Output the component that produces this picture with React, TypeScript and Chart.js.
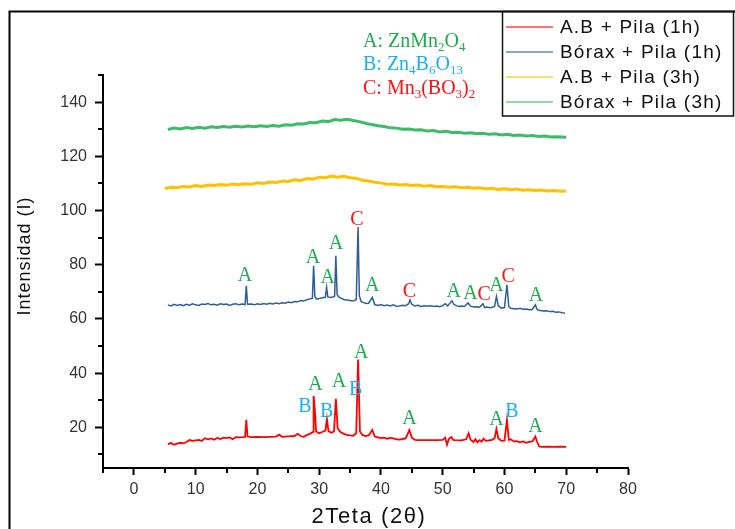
import React, { useEffect, useRef } from "react";
import { Chart, registerables } from "chart.js";

Chart.register(...registerables);

// ---------- data ----------
const seriesLabels = ["A.B + Pila (1h)", "Bórax + Pila (1h)", "A.B + Pila (3h)", "Bórax + Pila (3h)"];
const seriesColors = ["#ff0000", "#2e5e9a", "#ffc000", "#3dbb6a"];

const redX = [5.5, 6, 6.5, 7, 7.5, 8, 8.5, 9, 9.5, 10, 10.5, 11, 11.5, 12, 12.5, 13, 13.5, 14, 14.5, 15, 15.5, 16, 16.5, 17, 17.6, 18, 18.2, 18.4, 19, 20, 21, 22, 23, 23.5, 24, 25, 26, 26.5, 27, 27.5, 28, 28.5, 29, 29.1, 29.3, 29.5, 30, 30.5, 31, 31.25, 31.5, 32, 32.4, 32.7, 33, 33.5, 34, 34.5, 35, 35.5, 36, 36.3, 36.6, 37, 37.5, 38, 38.6, 39, 39.5, 40, 40.5, 41, 41.5, 42, 42.5, 43, 43.5, 44, 44.6, 45, 45.5, 46, 47, 48, 49, 50, 50.4, 50.7, 51, 51.4, 51.7, 52, 53, 53.8, 54.2, 54.5, 55, 55.3, 55.6, 56, 56.3, 56.6, 57, 57.5, 58, 58.4, 58.7, 59, 59.5, 60, 60.4, 60.7, 61, 61.5, 62, 62.5, 63, 63.5, 64, 64.5, 65, 65.3, 65.6, 66, 67, 68, 69, 70];
const redY = [13.8, 14.2, 13.6, 14.0, 14.3, 14.1, 14.6, 15.3, 15.0, 15.2, 15.4, 15.0, 16.0, 15.6, 15.9, 15.4, 16.1, 15.7, 16.2, 16.0, 16.3, 15.6, 16.4, 16.3, 16.4, 16.5, 22.8, 16.6, 16.4, 16.5, 16.4, 16.5, 16.6, 17.3, 16.5, 16.7, 16.8, 17.6, 16.8, 16.5, 17.2, 17.6, 18.3, 31.6, 26.5, 18.5, 17.8, 18.3, 18.8, 23.0, 18.6, 18.0, 18.5, 30.5, 19.5, 18.2, 17.6, 17.2, 17.0, 16.9, 17.8, 45.0, 18.5, 17.2, 16.8, 17.0, 19.0, 16.6, 16.3, 16.0, 16.2, 15.8, 16.1, 15.9, 15.6, 15.5, 15.7, 15.9, 19.0, 16.2, 15.4, 15.3, 15.3, 15.3, 15.3, 15.4, 16.2, 13.6, 15.8, 16.4, 15.4, 15.3, 15.2, 15.6, 17.8, 15.4, 14.6, 15.6, 14.5, 15.3, 14.7, 15.8, 15.0, 15.2, 15.4, 16.0, 19.4, 16.0, 15.0, 15.1, 22.7, 15.4, 15.6, 14.8, 14.9, 14.5, 14.8, 14.3, 14.6, 14.8, 16.6, 14.6, 13.0, 12.8, 12.9, 12.8, 12.9, 12.8];

const blueX = [5.5, 6, 6.5, 7, 7.5, 8, 8.5, 9, 9.5, 10, 10.5, 11, 11.5, 12, 12.5, 13, 13.5, 14, 14.5, 15, 15.5, 16, 16.5, 17, 17.5, 18, 18.2, 18.4, 19, 19.5, 20, 20.5, 21, 21.5, 22, 22.5, 23, 23.5, 24, 24.5, 25, 25.5, 26, 26.5, 27, 27.5, 28, 28.5, 28.9, 29.1, 29.3, 29.6, 30, 30.5, 31, 31.2, 31.4, 31.8, 32.2, 32.5, 32.7, 32.9, 33.2, 33.6, 34, 34.5, 35, 35.5, 36, 36.3, 36.5, 36.8, 37.2, 37.6, 38, 38.6, 39, 39.5, 40, 40.5, 41, 41.5, 42, 42.5, 43, 43.5, 44, 44.5, 44.7, 45, 45.5, 46, 46.5, 47, 47.5, 48, 48.5, 49, 49.5, 50, 50.4, 50.8, 51.5, 51.8, 52.2, 52.6, 53, 53.5, 54.1, 54.5, 55, 55.5, 56, 56.5, 56.8, 57.2, 57.6, 58, 58.4, 58.7, 59, 59.5, 60, 60.4, 60.7, 61, 61.5, 62, 62.5, 63, 63.5, 64, 64.5, 65, 65.3, 65.8, 66.3, 66.8, 67.3, 67.8, 68.3, 68.8, 69.3, 69.8];
const blueY = [65.2, 64.8, 65.4, 65.0, 65.3, 64.9, 65.4, 65.1, 65.6, 65.2, 65.0, 65.5, 65.3, 65.7, 65.2, 65.4, 65.1, 65.6, 65.3, 65.5, 65.0, 65.4, 65.6, 65.2, 65.5, 65.3, 72.2, 65.4, 65.5, 65.2, 65.6, 65.3, 65.7, 65.4, 65.8, 65.5, 65.9, 65.6, 66.0, 65.8, 66.2, 66.0, 66.4, 66.3, 66.8, 66.6, 67.1, 67.4, 67.6, 79.6, 68.2, 67.3, 67.5, 67.8, 68.0, 71.7, 68.1, 67.9, 68.1, 68.4, 83.3, 69.0, 68.0, 67.6, 67.2, 67.0, 66.8, 66.6, 67.2, 93.9, 68.5, 66.4, 66.0, 65.7, 65.8, 67.9, 65.3, 65.0, 65.3, 64.9, 65.1, 64.8, 65.2, 64.7, 64.8, 65.0, 64.9, 65.6, 67.0, 65.4, 64.8, 65.0, 64.6, 64.9, 64.7, 64.9, 64.6, 64.8, 64.5, 64.9, 65.6, 64.8, 66.7, 65.4, 64.9, 64.6, 64.8, 64.6, 65.9, 64.7, 64.4, 64.5, 64.3, 65.6, 64.2, 64.4, 64.1, 64.3, 64.6, 68.3, 64.8, 64.0, 64.2, 72.6, 64.6, 63.9, 63.8, 63.7, 63.9, 63.6, 63.7, 63.4, 63.5, 65.2, 63.4, 63.1, 62.9, 63.0, 62.7, 62.8, 62.5, 62.6, 62.3, 62.2];

const yellowX = [5, 6, 7, 8, 9, 10, 11, 12, 13, 14, 15, 16, 17, 18, 19, 20, 21, 22, 23, 24, 25, 26, 27, 28, 29, 30, 31, 32, 33, 34, 35, 36, 37, 38, 39, 40, 41, 42, 43, 44, 45, 46, 47, 48, 49, 50, 51, 52, 53, 54, 55, 56, 57, 58, 59, 60, 61, 62, 63, 64, 65, 66, 67, 68, 69, 70];
const yellowY = [108.1, 108.6, 108.4, 108.9, 108.7, 109.2, 108.9, 109.4, 109.2, 109.6, 109.3, 109.8, 109.5, 109.9, 109.7, 110.2, 110.0, 110.5, 110.3, 110.9, 110.7, 111.3, 111.1, 111.8, 111.6, 112.3, 112.1, 112.7, 112.3, 112.6, 112.1, 111.9, 111.2, 110.9, 110.4, 110.2, 109.7, 109.8, 109.4, 109.6, 109.2, 109.4, 109.0, 109.2, 108.8, 108.9, 108.6, 108.8, 108.4, 108.6, 108.2, 108.4, 108.0, 108.2, 107.8, 108.0, 107.7, 107.9, 107.5, 107.7, 107.4, 107.6, 107.2, 107.4, 107.1, 107.2];

const greenX = [5.5, 6.5, 7.5, 8.5, 9.5, 10.5, 11.5, 12.5, 13.5, 14.5, 15.5, 16.5, 17.5, 18.5, 19.5, 20.5, 21.5, 22.5, 23.5, 24.5, 25.5, 26.5, 27.5, 28.5, 29.5, 30.5, 31.5, 32.5, 33.5, 34.5, 35.5, 36.5, 37.5, 38.5, 39.5, 40.5, 41.5, 42.5, 43.5, 44.5, 45.5, 46.5, 47.5, 48.5, 49.5, 50.5, 51.5, 52.5, 53.5, 54.5, 55.5, 56.5, 57.5, 58.5, 59.5, 60.5, 61.5, 62.5, 63.5, 64.5, 65.5, 66.5, 67.5, 68.5, 70];
const greenY = [129.9, 130.4, 130.1, 130.6, 130.3, 130.7, 130.4, 130.9, 130.6, 131.0, 130.7, 131.1, 130.8, 131.2, 130.9, 131.3, 131.0, 131.4, 131.1, 131.6, 131.5, 132.0, 131.9, 132.5, 132.4, 133.0, 132.8, 133.6, 133.3, 133.7, 133.2, 132.8, 132.2, 131.7, 131.3, 131.0, 130.5, 130.4, 130.0, 130.1, 129.7, 129.8, 129.3, 129.5, 129.0, 129.2, 128.8, 128.9, 128.5, 128.7, 128.3, 128.5, 128.1, 128.3, 127.9, 128.1, 127.7, 127.9, 127.5, 127.7, 127.3, 127.5, 127.1, 127.2, 127.0];

// peak labels (data coordinates)
const peakText = ["B", "A", "B", "A", "B", "A", "A", "A", "B", "A",
  "A", "A", "A", "A", "C", "A", "C", "A", "A", "C", "A", "C", "A"];
const peakX = [27.7, 29.4, 31.2, 33.2, 35.9, 36.8, 44.6, 58.7, 61.2, 65.0,
  18.0, 29.0, 31.4, 32.7, 36.1, 38.6, 44.6, 51.8, 54.5, 56.7, 58.7, 60.6, 65.1];
const peakY = [27.5, 35.6, 25.8, 36.8, 34.0, 47.6, 23.0, 22.7, 25.8, 20.2,
  75.9, 82.7, 75.3, 87.6, 96.5, 72.3, 70.1, 70.1, 69.3, 69.0, 72.4, 75.4, 68.7];

const phaseLetters = ["A", "B", "C"];
const xTickValues = [0, 10, 20, 30, 40, 50, 60, 70, 80];
const xMinorValues = [-5, 5, 15, 25, 35, 45, 55, 65, 75];
const yTickValues = [20, 40, 60, 80, 100, 120, 140];
const yMinorValues = [10, 30, 50, 70, 90, 110, 130, 150];

const GREEN_TXT = "#1faa50";
const BLUE_TXT = "#1ab0ee";
const RED_TXT = "#ff1010";
const letterColor: Record<string, string> = { A: GREEN_TXT, B: BLUE_TXT, C: RED_TXT };

function drawSpaced(ctx: CanvasRenderingContext2D, text: string, x: number, y: number, spacing: number) {
  (ctx as any).letterSpacing = spacing + "px";
  ctx.fillText(text, x, y);
  (ctx as any).letterSpacing = "0px";
}

// draws a formula made of [text, isSub] parts
function drawFormula(ctx: CanvasRenderingContext2D, parts: [string, boolean][], x: number, y: number, color: string) {
  let cx = x;
  ctx.fillStyle = color;
  ctx.textAlign = "left";
  ctx.textBaseline = "alphabetic";
  for (const [t, sub] of parts) {
    ctx.font = sub ? "13px 'Liberation Serif', 'Times New Roman', serif" : "20px 'Liberation Serif', 'Times New Roman', serif";
    ctx.fillText(t, cx, sub ? y + 4 : y);
    cx += ctx.measureText(t).width;
  }
}

const decor = {
  id: "decor",
  afterDraw(chart: any) {
    const ctx: CanvasRenderingContext2D = chart.ctx;
    const xs = chart.scales.x;
    const ys = chart.scales.y;
    ctx.save();
    // outer frame
    ctx.strokeStyle = "#000";
    ctx.lineWidth = 2;
    ctx.beginPath();
    ctx.moveTo(9.5, 529);
    ctx.lineTo(9.5, 11.5);
    ctx.lineTo(735, 11.5);
    ctx.stroke();

    // minor ticks
    ctx.lineWidth = 2;
    for (const v of xMinorValues) {
      const px = Math.round(xs.getPixelForValue(v));
      ctx.beginPath();
      ctx.moveTo(px, xs.top);
      ctx.lineTo(px, xs.top + 5);
      ctx.stroke();
    }
    for (const v of yMinorValues) {
      const py = Math.round(ys.getPixelForValue(v));
      ctx.beginPath();
      ctx.moveTo(ys.right, py);
      ctx.lineTo(ys.right - 5, py);
      ctx.stroke();
    }

    // axis titles
    ctx.fillStyle = "#111";
    ctx.font = "18px 'Liberation Sans', Arial, sans-serif";
    ctx.textAlign = "center";
    ctx.textBaseline = "middle";
    ctx.save();
    ctx.translate(25, 256);
    ctx.rotate(-Math.PI / 2);
    drawSpaced(ctx, "Intensidad (I)", 0, 0, 1);
    ctx.restore();
    ctx.font = "22px 'Liberation Sans', Arial, sans-serif";
    drawSpaced(ctx, "2Teta (2θ)", 369, 517, 1.6);

    // peak labels
    ctx.font = "20px 'Liberation Serif', 'Times New Roman', serif";
    ctx.textAlign = "center";
    ctx.textBaseline = "middle";
    peakText.forEach((t, i) => {
      ctx.fillStyle = letterColor[t];
      ctx.fillText(t, xs.getPixelForValue(peakX[i]), ys.getPixelForValue(peakY[i]));
    });

    // phase key
    drawFormula(ctx, [[phaseLetters[0] + ": ZnMn", false], ["2", true], ["O", false], ["4", true]], 363, 47, GREEN_TXT);
    drawFormula(ctx, [[phaseLetters[1] + ": Zn", false], ["4", true], ["B", false], ["6", true], ["O", false], ["13", true]], 363, 70, BLUE_TXT);
    drawFormula(ctx, [[phaseLetters[2] + ": Mn", false], ["3", true], ["(BO", false], ["3", true], [")", false], ["2", true]], 363, 94, RED_TXT);

    // legend box
    ctx.strokeStyle = "#111";
    ctx.lineWidth = 1.5;
    ctx.strokeRect(502.5, 11.5, 231, 104.5);
    ctx.font = "19px 'Liberation Sans', Arial, sans-serif";
    ctx.textAlign = "left";
    ctx.textBaseline = "middle";
    chart.data.datasets.forEach((ds: any, i: number) => {
      const y = 27 + i * 25;
      ctx.strokeStyle = ds.borderColor;
      ctx.globalAlpha = 0.75;
      ctx.lineWidth = 1.5;
      ctx.beginPath();
      ctx.moveTo(506, y);
      ctx.lineTo(553, y);
      ctx.stroke();
      ctx.globalAlpha = 1;
      ctx.fillStyle = "#111";
      drawSpaced(ctx, ds.label, 560, y + 1, 1.2);
    });
    ctx.restore();
  },
};

export default function App() {
  const ref = useRef<HTMLCanvasElement | null>(null);
  useEffect(() => {
    if (!ref.current) return;
    const mk = (xv: number[], yv: number[]) => xv.map((x, i) => ({ x, y: yv[i] }));
    const widths = [1.8, 1.5, 3, 3];
    const sets = [mk(redX, redY), mk(blueX, blueY), mk(yellowX, yellowY), mk(greenX, greenY)];
    const tickFont = { family: "'Liberation Sans', Arial, sans-serif", size: 16 };
    const chart = new Chart(ref.current, {
      type: "scatter",
      data: {
        datasets: sets.map((d, i) => ({
          label: seriesLabels[i],
          data: d,
          showLine: true,
          borderColor: seriesColors[i],
          backgroundColor: seriesColors[i],
          borderWidth: widths[i],
          pointRadius: 0,
          tension: 0,
        })),
      },
      options: {
        responsive: false,
        animation: false,
        layout: { padding: { left: 0, top: 75, right: 107, bottom: 0 } },
        plugins: { legend: { display: false }, tooltip: { enabled: false } },
        scales: {
          x: {
            type: "linear",
            min: -5,
            max: 80,
            afterBuildTicks: (s: any) => {
              s.ticks = xTickValues.map((v) => ({ value: v }));
            },
            afterFit: (s: any) => {
              s.height = 61;
            },
            ticks: { font: tickFont, color: "#333", padding: 5, maxRotation: 0, autoSkip: false },
            grid: { display: true, drawOnChartArea: false, drawTicks: true, tickLength: 7, tickWidth: 2, tickColor: "#000" },
            border: { display: true, color: "#000", width: 2 },
          },
          y: {
            type: "linear",
            min: 5,
            max: 150,
            afterBuildTicks: (s: any) => {
              s.ticks = yTickValues.map((v) => ({ value: v }));
            },
            afterFit: (s: any) => {
              s.width = 103;
            },
            ticks: { font: tickFont, color: "#333", padding: 8 },
            grid: { display: true, drawOnChartArea: false, drawTicks: true, tickLength: 8, tickWidth: 2, tickColor: "#000" },
            border: { display: true, color: "#000", width: 2 },
          },
        },
      },
      plugins: [decor],
    } as any);
    return () => chart.destroy();
  }, []);
  return (
    <canvas
      ref={ref}
      width={735}
      height={529}
      style={{ position: "fixed", left: 0, top: 0, width: 735, height: 529, background: "#fff" }}
    />
  );
}
